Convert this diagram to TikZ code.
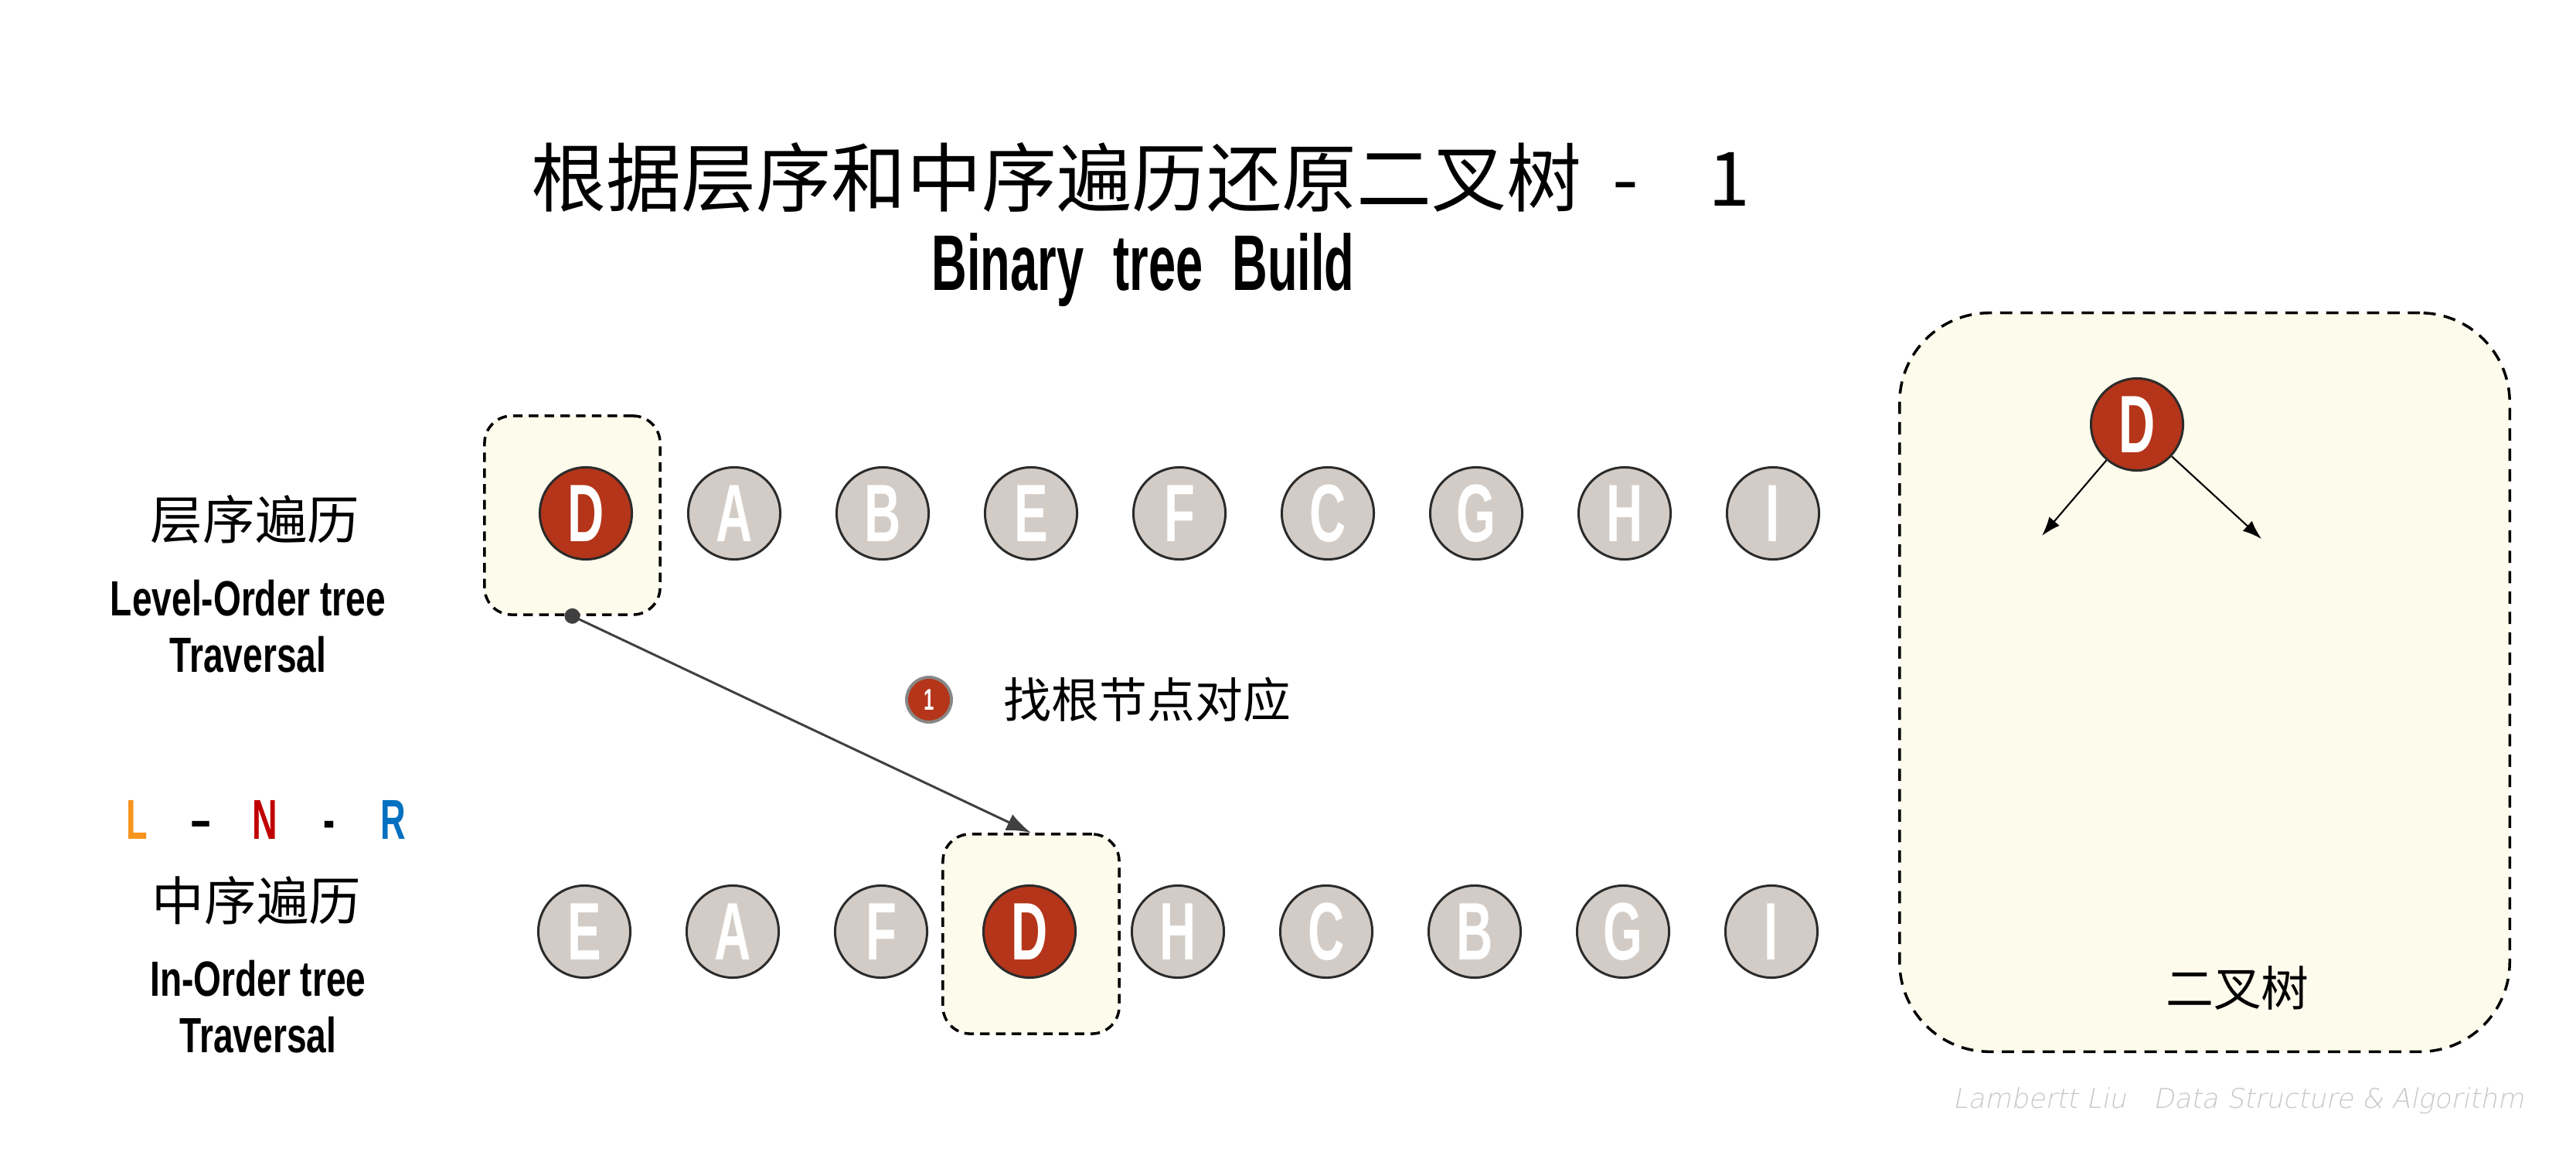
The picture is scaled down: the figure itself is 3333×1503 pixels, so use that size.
\documentclass[tikz,border=0pt]{standalone}
\usepackage{fontspec}
\setmainfont{Liberation Sans}
\newfontfamily\cjk{Noto Sans CJK SC}
\newfontfamily\cnd[FakeStretch=0.62]{Liberation Sans}
\newfontfamily\cndw[FakeStretch=0.72]{Liberation Sans}
\newfontfamily\wmfont[FakeSlant=0.2]{DejaVu Sans ExtraLight}
\usetikzlibrary{arrows.meta}
\definecolor{nodered}{RGB}{180,53,25}
\definecolor{nodegray}{RGB}{211,204,198}
\definecolor{cream}{RGB}{253,251,236}
\definecolor{edgecol}{RGB}{43,43,43}
\definecolor{lnrL}{RGB}{247,148,29}
\definecolor{lnrN}{RGB}{192,0,0}
\definecolor{lnrR}{RGB}{0,112,192}
\definecolor{wmgray}{RGB}{200,200,200}
\definecolor{conngray}{RGB}{64,64,64}
\definecolor{stepring}{RGB}{135,135,135}
\begin{document}
\begin{tikzpicture}[x=0.01cm,y=-0.01cm,
  tnode/.style={circle, minimum size=1.19cm, inner sep=0pt, draw=edgecol, line width=0.85pt,
    text=white, font=\cnd\bfseries\fontsize{30}{30}\selectfont},
  graynode/.style={tnode, fill=nodegray},
  rednode/.style={tnode, fill=nodered},
  hlbox/.style={draw=black, fill=cream, line width=1pt, dash pattern=on 3.5pt off 2.3pt,
    rounded corners=10pt, inner sep=0pt},
  bigbox/.style={draw=black, fill=cream, line width=1pt, dash pattern=on 4.5pt off 3pt,
    rounded corners=33pt, inner sep=0pt},
  cjklabel/.style={inner sep=0pt, font=\cjk\fontsize{19.2}{22}\selectfont},
  enlabel/.style={inner sep=0pt, align=center, font=\cndw\bfseries\fontsize{18.2}{20.8}\selectfont},
  conn/.style={draw=conngray, line width=0.85pt, -{Latex[length=9pt,width=6.5pt]}},
  childarrow/.style={draw=black, line width=0.6pt, -{Latex[length=7pt,width=5pt]}},
  stepmark/.style={circle, fill=nodered, draw=stepring, line width=1.1pt, minimum size=0.58cm,
    inner sep=0pt, text=white, font=\cnd\bfseries\fontsize{11}{12}\selectfont}
]
\fill[white] (0,0) rectangle (3333,1503);
\useasboundingbox (0,0) rectangle (3333,1503);

% titles
\node[anchor=west, inner sep=0pt, font=\cjk\fontsize{27.6}{30}\selectfont] (title) at (687,230)
  {根据层序和中序遍历还原二叉树\hspace{0.4cm}-\hspace{0.9cm}1};
\node[anchor=base west, inner sep=0pt, font=\cnd\bfseries\fontsize{29}{30}\selectfont] (subtitle) at (1205,375)
  {Binary\hspace{0.38cm}tree\hspace{0.38cm}Build};

% left labels
\node[cjklabel] (lvlcn) at (330,672) {层序遍历};
\node[enlabel] (lvlen) at (321,810) {Level-Order tree\\Traversal};
\node[inner sep=0pt, font=\cnd\bfseries\fontsize{20.7}{22}\selectfont] (lnr) at (343,1060)
  {\makebox[0.83cm]{\color{lnrL}L}\makebox[0.83cm]{–}\makebox[0.83cm]{\color{lnrN}N}\makebox[0.83cm]{-}\makebox[0.83cm]{\color{lnrR}R}};
\node[cjklabel] (incn) at (332,1165) {中序遍历};
\node[enlabel] (inen) at (334,1302) {In-Order tree\\Traversal};

% highlight boxes
\node[hlbox, minimum width=2.27cm, minimum height=2.57cm] (hlT) at (740.5,666.5) {};
\node[hlbox, minimum width=2.28cm, minimum height=2.58cm] (hlB) at (1334,1208) {};

% level-order row
\node[rednode]  (t1) at (758,664)  {D};
\node[graynode] (t2) at (950,664)  {A};
\node[graynode] (t3) at (1142,664) {B};
\node[graynode] (t4) at (1334,664) {E};
\node[graynode] (t5) at (1526,664) {F};
\node[graynode] (t6) at (1718,664) {C};
\node[graynode] (t7) at (1910,664) {G};
\node[graynode] (t8) at (2102,664) {H};
\node[graynode] (t9) at (2294,664) {I};

% in-order row
\node[graynode] (b1) at (756,1205)  {E};
\node[graynode] (b2) at (948,1205)  {A};
\node[graynode] (b3) at (1140,1205) {F};
\node[rednode]  (b4) at (1332,1205) {D};
\node[graynode] (b5) at (1524,1205) {H};
\node[graynode] (b6) at (1716,1205) {C};
\node[graynode] (b7) at (1908,1205) {B};
\node[graynode] (b8) at (2100,1205) {G};
\node[graynode] (b9) at (2292,1205) {I};

% connector
\draw[conn] (hlT.south) -- (hlB.north);
\fill[conngray] (hlT.south) circle (0.1cm);

% step
\node[stepmark] (s1) at (1202,905) {1};
\node[anchor=west, inner sep=0pt, font=\cjk\fontsize{17.6}{20}\selectfont] (s1t) at (1298,905) {找根节点对应};

% result tree box
\node[bigbox, minimum width=7.89cm, minimum height=9.55cm] (tree) at (2852.5,882.5) {};
\node[rednode] (rD) at (2765,549) {D};
\coordinate (rl) at (2642,693);
\coordinate (rr) at (2926,697);
\draw[childarrow] (rD) -- (rl);
\draw[childarrow] (rD) -- (rr);
\node[inner sep=0pt, font=\cjk\fontsize{17.6}{20}\selectfont] (bt) at (2895,1278) {二叉树};

% watermark
\node[anchor=base west, inner sep=0pt, text=wmgray, font=\wmfont\fontsize{10}{12}\selectfont] (wm) at (2526,1433)
  {Lambertt Liu\hspace{0.35cm}Data Structure \& Algorithm};
\end{tikzpicture}
\end{document}
